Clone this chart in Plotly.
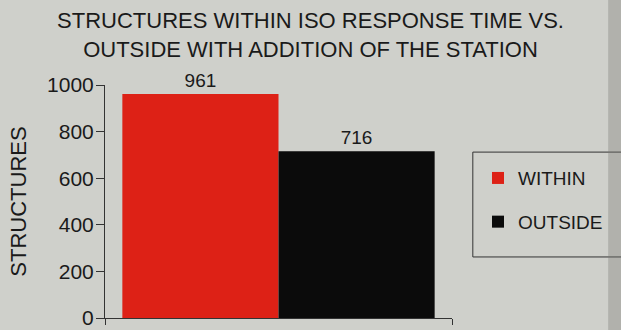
import plotly.graph_objects as go

categories = [""]
series_names = ["WITHIN", "OUTSIDE"]
within_vals = [961]
outside_vals = [716]
y_ticks = [0, 200, 400, 600, 800, 1000]
colors = ["#dd2116", "#0b0b0b"]

FONT = "Liberation Sans, Arial, sans-serif"

fig = go.Figure()
for name, vals, col, grp in [(series_names[0], within_vals, colors[0], "a"),
                             (series_names[1], outside_vals, colors[1], "b")]:
    fig.add_trace(go.Bar(
        x=categories, y=vals, name=name, marker=dict(color=col, line=dict(width=0)),
        text=[str(v) for v in vals], textposition="outside", cliponaxis=False,
        textfont=dict(size=19, color="#1a1a1a", family=FONT),
        legendgroup=grp,
    ))

bg = "#cfd0cb"
fig.update_layout(
    width=621, height=330,
    paper_bgcolor=bg, plot_bgcolor=bg,
    margin=dict(l=105, r=169, t=85, b=12, autoexpand=False),
    barmode="group", bargap=0.1, bargroupgap=0,
    font=dict(family=FONT, color="#1a1a1a"),
    title=dict(
        text="STRUCTURES WITHIN ISO RESPONSE TIME VS.<br>OUTSIDE WITH ADDITION OF THE STATION",
        x=0.5, xanchor="center", y=0.915, yanchor="middle",
        font=dict(size=22, family=FONT, color="#1a1a1a"),
    ),
    showlegend=True,
    legend=dict(
        x=1.075, xanchor="left", y=0.506, yanchor="middle",
        bgcolor="rgba(0,0,0,0)", borderwidth=0,
        font=dict(size=19, family=FONT, color="#1a1a1a"),
        traceorder="grouped", tracegroupgap=16,
    ),
    xaxis=dict(
        showticklabels=False, showgrid=False, zeroline=False, automargin=False,
        showline=True, linecolor="#333", linewidth=1,
        ticks="outside", tickson="boundaries", ticklen=6, tickcolor="#333",
    ),
    yaxis=dict(
        range=[0, 1000], tickvals=y_ticks, ticktext=[str(t) for t in y_ticks],
        showgrid=False, zeroline=False, automargin=False,
        showline=True, linecolor="#333", linewidth=1,
        ticks="outside", ticklen=8, tickcolor="#333", ticklabelstandoff=-2,
        tickfont=dict(size=21, family=FONT, color="#1a1a1a"),
        title=dict(text="STRUCTURES", font=dict(size=22, family=FONT, color="#1a1a1a"), standoff=14),
    ),
    shapes=[
        dict(type="rect", xref="paper", yref="paper", x0=1.06, x1=1.6, y0=0.262, y1=0.712,
             line=dict(color="#333", width=1), fillcolor="rgba(0,0,0,0)", layer="below"),
        dict(type="rect", xref="paper", yref="paper", x0=1.45, x1=1.6, y0=-0.1, y1=1.4,
             line=dict(width=0), fillcolor="rgba(120,120,115,0.35)", layer="below"),
    ],
)

fig.write_html("out.html", config={"displayModeBar": False},
               post_script="document.body.style.margin='0';document.body.style.overflow='hidden';")
